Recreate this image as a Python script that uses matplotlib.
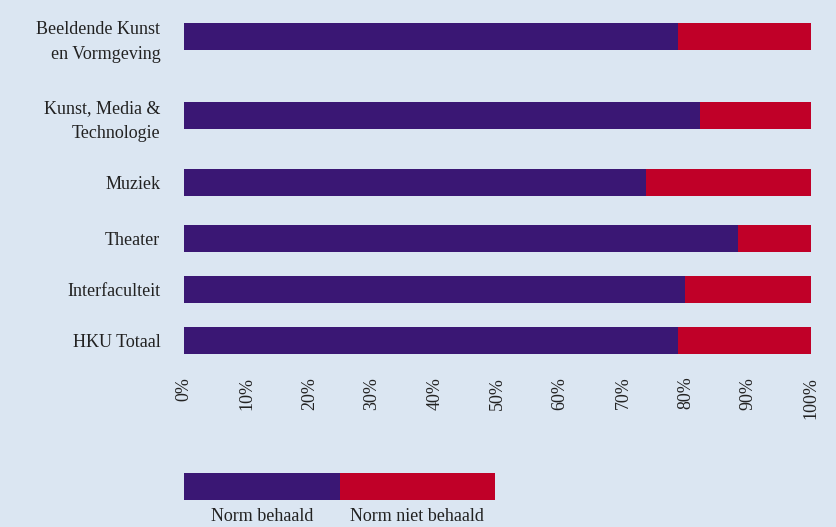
import numpy as np
from matplotlib import pyplot as plt

# data
categories = ['Beeldende Kunst\nen Vormgeving', 'Kunst, Media &\nTechnologie',
              'Muziek', 'Theater', 'Interfaculteit', 'HKU Totaal']
behaald = [0.788, 0.823, 0.737, 0.884, 0.799, 0.788]
niet_behaald = [1 - v for v in behaald]
legend_labels = ['Norm behaald', 'Norm niet behaald']
ticks = np.arange(0, 1.01, 0.1)
tick_labels = ['%d%%' % round(t * 100) for t in ticks]

# layout (pixel-ish rows, top down)
rows = [36.5, 115.5, 182.5, 238.5, 289.5, 340.5]
bg = '#dbe6f2'
purple = '#3a1774'
red = '#c00028'

plt.rcParams['font.family'] = ['Liberation Serif', 'DejaVu Serif']

W, H = 837, 527
fig = plt.figure(figsize=(W / 100, H / 100), dpi=100, facecolor=bg)

# main axes: x from 184 to 811 px, y from 0 to 360 px
ax = fig.add_axes([184 / W, 1 - 360 / H, (811 - 184) / W, 360 / H])
ax.set_facecolor(bg)
ax.barh(rows, behaald, height=27, color=purple, linewidth=0)
ax.barh(rows, niet_behaald, left=behaald, height=27, color=red, linewidth=0)
ax.set_xlim(0, 1)
ax.set_ylim(360, 0)
ax.set_yticks(rows)
ax.set_yticklabels(categories, fontsize=13, color='#222222', ha='right',
                   linespacing=1.6)
ax.set_xticks(ticks)
ax.set_xticklabels(tick_labels, rotation=90, fontsize=13, color='#222222', va='top')
ax.tick_params(axis='y', length=0, pad=17)
ax.tick_params(axis='x', length=0, pad=12)
for s in ax.spines.values():
    s.set_visible(False)

# legend drawn as a small stacked bar
lax = fig.add_axes([184 / W, 1 - 500 / H, (495 - 184) / W, 27 / H])
lax.set_facecolor(bg)
lax.barh([0], [1], height=1, color=purple, linewidth=0)
lax.barh([0], [1], left=[1], height=1, color=red, linewidth=0)
lax.set_xlim(0, 2)
lax.set_ylim(-0.5, 0.5)
lax.axis('off')
for i, lab in enumerate(legend_labels):
    lax.text(i + 0.5, -0.8, lab, ha='center', va='top', fontsize=13,
             color='#222222', transform=lax.transData)

plt.savefig('out.png', dpi=100, facecolor=bg)
